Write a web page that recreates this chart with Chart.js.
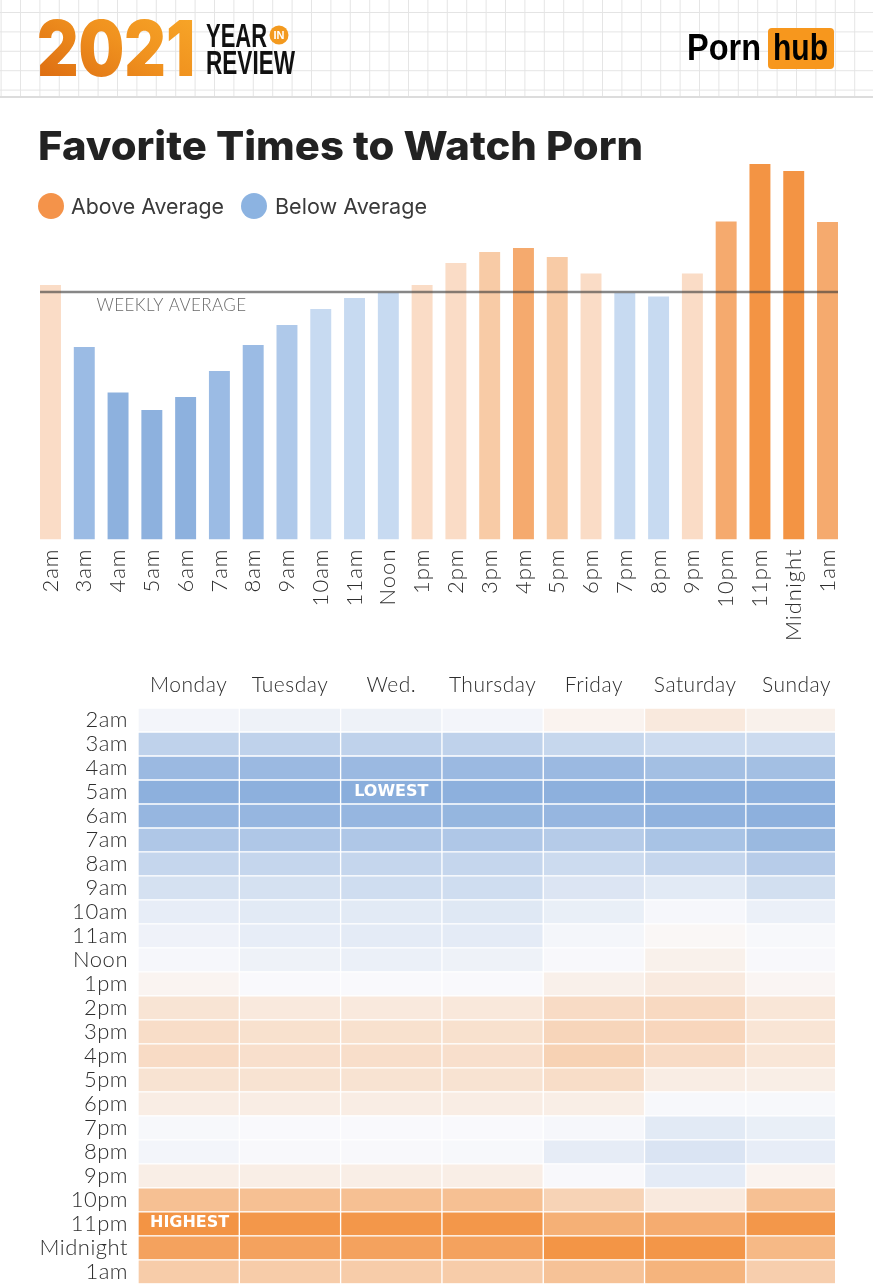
<!DOCTYPE html>
<html>
<head>
<meta charset="utf-8">
<script src="https://cdn.jsdelivr.net/npm/chart.js@4.4.1/dist/chart.umd.min.js"></script>
<style>
  html, body { margin: 0; padding: 0; background: #fff; }
  body { width: 873px; height: 1285px; position: relative; overflow: hidden; }
  #bars { position: absolute; left: 0; top: 100px; }
  #heat { position: absolute; left: 0; top: 660px; }
  #overlay { position: absolute; left: 0; top: 0; pointer-events: none; }
</style>
</head>
<body>
<canvas id="bars" width="873" height="560"></canvas>
<canvas id="heat" width="873" height="647"></canvas>
<svg id="overlay" width="873" height="1285" xmlns="http://www.w3.org/2000/svg">
  <defs>
    <pattern id="grid" width="19.4" height="19.4" patternUnits="userSpaceOnUse" x="0.6" y="12">
      <path d="M0 0.5 H19.4 M0.5 0 V19.4" stroke="#e4e4e4" stroke-width="1" fill="none"/>
    </pattern>
    <linearGradient id="og" x1="0" y1="1" x2="1" y2="0">
      <stop offset="0" stop-color="#d9650f"/>
      <stop offset="0.55" stop-color="#f0921f"/>
      <stop offset="1" stop-color="#f9aa2a"/>
    </linearGradient>
  </defs>
  <rect x="0" y="0" width="873" height="96" fill="url(#grid)"/>
  <line x1="0" y1="97" x2="873" y2="97" stroke="#dcdcdc" stroke-width="2"/>
  <text x="37" y="76" font-family="Inter, 'Liberation Sans', sans-serif" font-weight="900" font-size="77" fill="url(#og)" textLength="158" lengthAdjust="spacingAndGlyphs">2021</text>
  <text x="206" y="47" font-family="'Liberation Sans Narrow', 'Liberation Sans', sans-serif" font-weight="700" font-size="33" fill="#111" textLength="61" lengthAdjust="spacingAndGlyphs">YEAR</text>
  <circle cx="279" cy="35" r="9.5" fill="#f39a1f"/>
  <text x="279" y="39" text-anchor="middle" font-family="'Liberation Sans Narrow', sans-serif" font-weight="700" font-size="11" fill="#fff">IN</text>
  <text x="206" y="74" font-family="'Liberation Sans Narrow', 'Liberation Sans', sans-serif" font-weight="700" font-size="33" fill="#111" textLength="89" lengthAdjust="spacingAndGlyphs">REVIEW</text>
  <text x="687" y="60" font-family="'Liberation Sans', Arial, sans-serif" font-weight="700" font-size="37" fill="#000" textLength="74" lengthAdjust="spacingAndGlyphs">Porn</text>
  <rect x="768" y="28" width="66" height="41" rx="4" fill="#f7971d"/>
  <text x="773" y="60" font-family="'Liberation Sans', Arial, sans-serif" font-weight="700" font-size="37" fill="#000" textLength="55" lengthAdjust="spacingAndGlyphs">hub</text>

  <text x="38" y="160" font-family="Inter, 'Open Sans', sans-serif" font-weight="800" font-size="40" fill="#222" textLength="605" lengthAdjust="spacingAndGlyphs">Favorite Times to Watch Porn</text>

  <circle cx="51" cy="206" r="13" fill="#f4934a"/>
  <text x="71" y="214" font-family="Inter, 'Open Sans', sans-serif" font-weight="400" font-size="22" fill="#3a3a3a" textLength="153" lengthAdjust="spacingAndGlyphs">Above Average</text>
  <circle cx="254" cy="206" r="13" fill="#8cb3e1"/>
  <text x="275" y="214" font-family="Inter, 'Open Sans', sans-serif" font-weight="400" font-size="22" fill="#3a3a3a" textLength="152" lengthAdjust="spacingAndGlyphs">Below Average</text>
</svg>
<script>
// ---------- DATA ----------
const hours = ["2am","3am","4am","5am","6am","7am","8am","9am","10am","11am","Noon","1pm",
               "2pm","3pm","4pm","5pm","6pm","7pm","8pm","9pm","10pm","11pm","Midnight","1am"];
// Overall traffic by hour, indexed to the weekly average (= 100)
const overallIndex = [102.8, 77.8, 59.4, 52.3, 57.6, 68.1, 78.6, 86.7, 93.1, 97.6, 99.7, 102.8,
                      111.7, 116.2, 117.8, 114.1, 107.5, 99.6, 98.2, 107.5, 128.5, 151.7, 148.9, 128.3];
const weeklyAverage = 100;

const days = ["Monday","Tuesday","Wed.","Thursday","Friday","Saturday","Sunday"];
// Heat score per hour for each day (-100 = lowest, +100 = highest)
const monday    = [-6,-53,-85,-97,-89,-67,-47,-33,-17,-10,-4,6,22,28,30,23,13,-3,-6,12,57,100,86,45];
const tuesday   = [-11,-53,-85,-97,-89,-67,-47,-33,-21,-17,-11,-1,17,25,26,23,13,-1,-2,12,57,97,86,45];
const wednesday = [-11,-53,-85,-100,-89,-67,-47,-38,-21,-20,-13,-1,17,25,27,23,13,-1,-2,12,57,97,86,45];
const thursday  = [-6,-53,-85,-97,-90,-67,-47,-38,-24,-20,-11,-1,18,25,26,23,13,-1,-3,12,57,97,86,45];
const friday    = [7,-46,-85,-97,-89,-62,-41,-27,-15,-5,-2,10,30,36,39,28,12,-4,-18,-2,38,73,99,55];
const saturday  = [17,-41,-78,-97,-95,-73,-47,-21,-4,3,9,16,32,35,30,13,-3,-21,-29,-20,17,76,98,69];
const sunday    = [9,-41,-78,-97,-97,-86,-60,-36,-13,-3,-2,5,20,21,20,12,-3,-15,-17,7,57,97,64,43];
const heat = [monday, tuesday, wednesday, thursday, friday, saturday, sunday];

// ---------- STYLE ----------
const LABEL_FONT = "Lato, 'Open Sans', 'Noto Sans', sans-serif";

function barColor(v) {
  if (v >= weeklyAverage) {
    if (v >= 140) return '#f39444';
    if (v >= 117.5) return '#f5aa6e';
    if (v >= 113) return '#f8cba6';
    return '#fadcc6';
  }
  if (v < 62) return '#8db1de';
  if (v < 80) return '#9bbbe4';
  if (v < 90) return '#afc9ea';
  return '#c7daf1';
}

function heatColor(v) {
  const t = Math.min(1, Math.abs(v) / 100);
  let r, g, b;
  if (v >= 0) { r = 250 - 7 * t; g = 250 - 102 * t; b = 252 - 184 * t; }
  else { r = 250 - 112 * t; g = 250 - 76 * t; b = 252 - 32 * t; }
  return `rgb(${Math.round(r)},${Math.round(g)},${Math.round(b)})`;
}

const spacing = (px) => ({
  id: 'spacing',
  beforeDraw(chart) { chart.ctx.letterSpacing = px; }
});

// ---------- BAR CHART ----------
const avgLine = {
  id: 'avgLine',
  afterDatasetsDraw(chart) {
    const { ctx, scales: { x, y } } = chart;
    const bw = chart.getDatasetMeta(0).data[0].width;
    const yy = y.getPixelForValue(weeklyAverage);
    const x0 = x.getPixelForValue(0) - bw / 2;
    const x1 = x.getPixelForValue(hours.length - 1) + bw / 2;
    ctx.save();
    ctx.strokeStyle = 'rgba(55,55,55,0.6)';
    ctx.lineWidth = 2.5;
    ctx.beginPath(); ctx.moveTo(x0, yy); ctx.lineTo(x1, yy); ctx.stroke();
    ctx.fillStyle = '#6a6a6a';
    ctx.font = `300 17px ${LABEL_FONT}`;
    ctx.letterSpacing = '0.4px';
    ctx.textBaseline = 'middle';
    ctx.textAlign = 'left';
    ctx.fillText('WEEKLY AVERAGE', x0 + 56.5, yy + 13.5);
    ctx.restore();
  }
};

new Chart(document.getElementById('bars'), {
  type: 'bar',
  data: {
    labels: hours,
    datasets: [{
      data: overallIndex,
      backgroundColor: overallIndex.map(barColor),
      barPercentage: 0.62,
      categoryPercentage: 1
    }]
  },
  options: {
    responsive: false,
    animation: false,
    devicePixelRatio: 1,
    layout: { padding: { left: 33.6, right: 28.6, top: 43.5, bottom: 0 } },
    plugins: { legend: { display: false }, tooltip: { enabled: false } },
    scales: {
      x: {
        grid: { display: false, drawTicks: false },
        border: { display: false },
        ticks: {
          minRotation: 90, maxRotation: 90, autoSkip: false, padding: 9,
          color: '#2e2e2e', font: { family: LABEL_FONT, size: 22, weight: '300' }
        },
        afterFit(s) { s.height = 120.5; }
      },
      y: { display: false, min: 0, max: 160 }
    }
  },
  plugins: [spacing('1px'), avgLine]
});

// ---------- HEATMAP ----------
const heatLabels = {
  id: 'heatLabels',
  afterDatasetsDraw(chart) {
    const { ctx, scales: { x, y } } = chart;
    let lo = { v: Infinity }, hi = { v: -Infinity };
    heat.forEach((col, d) => col.forEach((v, h) => {
      if (v < lo.v) lo = { v, d, h };
      if (v > hi.v) hi = { v, d, h };
    }));
    ctx.save();
    ctx.letterSpacing = '0px';
    ctx.fillStyle = '#ffffff';
    ctx.font = `700 16px 'DejaVu Sans', sans-serif`;
    ctx.textBaseline = 'middle';
    ctx.textAlign = 'center';
    ctx.fillText('LOWEST', x.getPixelForValue(lo.d + 0.5), y.getPixelForValue(lo.h));
    ctx.textAlign = 'left';
    ctx.fillText('HIGHEST', x.getPixelForValue(hi.d) + 12, y.getPixelForValue(hi.h) - 1);
    ctx.restore();
  }
};

new Chart(document.getElementById('heat'), {
  type: 'bar',
  data: {
    labels: hours,
    datasets: days.map((day, d) => ({
      label: day,
      data: hours.map(() => [d, d + 1]),
      backgroundColor: heat[d].map(heatColor),
      borderColor: '#ffffff',
      borderWidth: 1,
      borderSkipped: false,
      grouped: false,
      barPercentage: 1,
      categoryPercentage: 1
    }))
  },
  options: {
    indexAxis: 'y',
    responsive: false,
    animation: false,
    devicePixelRatio: 1,
    layout: { padding: { left: 0, right: 38, top: 0, bottom: 1 } },
    plugins: { legend: { display: false }, tooltip: { enabled: false } },
    scales: {
      x: {
        type: 'linear', position: 'top', min: 0, max: 6.88,
        grid: { display: false, drawTicks: false },
        border: { display: false },
        afterBuildTicks(s) { s.ticks = days.map((_, i) => ({ value: i + 0.5 })); },
        afterFit(s) { s.height = 48; },
        ticks: {
          autoSkip: false, maxRotation: 0, padding: 10,
          color: '#2e2e2e', font: { family: LABEL_FONT, size: 21, weight: '300' },
          callback: (v) => days[Math.floor(v)]
        }
      },
      y: {
        grid: { display: false, drawTicks: false },
        border: { display: false },
        afterFit(s) { s.width = 138; },
        ticks: {
          autoSkip: false, padding: 10,
          color: '#2e2e2e', font: { family: LABEL_FONT, size: 22, weight: '300' }
        }
      }
    }
  },
  plugins: [spacing('0.5px'), heatLabels]
});
</script>
</body>
</html>
